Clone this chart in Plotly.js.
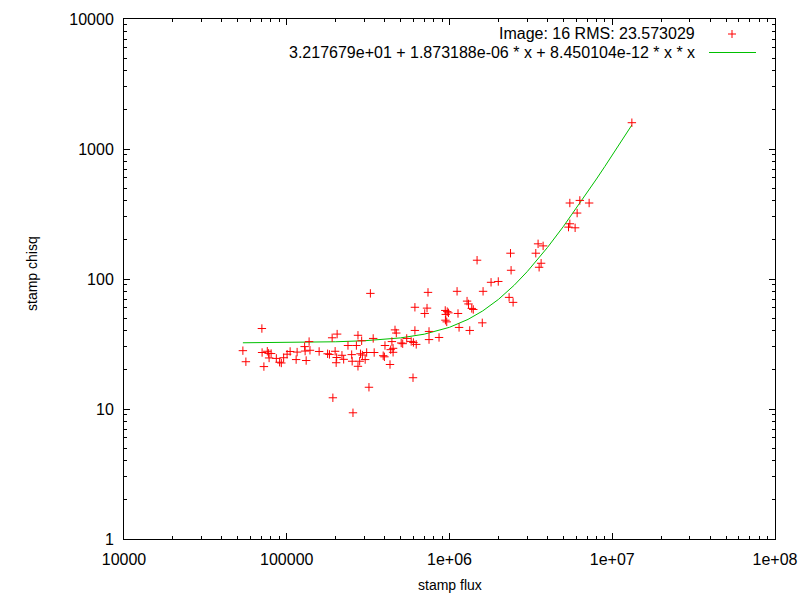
<!DOCTYPE html>
<html>
<head>
<meta charset="utf-8">
<script src="https://cdn.plot.ly/plotly-3.0.1.min.js"></script>
<style>
  body { margin: 0; background: #fff; }
  #chart { width: 800px; height: 600px; }
</style>
</head>
<body>
<div id="chart"></div>
<script>
// stamp flux / chisq per source
var fluxVals = [70350, 53760, 56090, 72380, 70560, 75940, 77360, 80150, 77900, 86290,
  90410, 92600, 95680, 100500, 104900, 114200, 115800, 128800, 137200, 129700,
  138900, 131600, 158100, 178300, 183000, 190100, 204000, 198300, 201200, 202600,
  218400, 223700, 237800, 250600, 252300, 273900, 267800, 288600, 283800, 291500,
  280600, 273900, 303300, 309800, 344500, 339700, 320000, 192000, 255200, 326500,
  401400, 442700, 435200, 450200, 450200, 391400, 398100, 431000, 462500, 471100,
  504900, 515800, 545900, 581600, 600100, 624500, 613100, 596700, 613100, 727600,
  704200, 737800, 941500, 985100, 948300, 968500, 944100, 961600, 1128000, 1113000,
  1145000, 748500, 748500, 862400, 1282000, 1308000, 1370000, 1400000, 1332000, 1590000,
  1477000, 1608000, 1800000, 1994000, 2324000, 2459000, 2370000, 2390000, 3502000, 3760000,
  3390000, 3655000, 3553000, 5487000, 6322000, 7211000, 6084000, 5487000, 5386000, 5914000,
  13200000];
var chisqVals = [41.6, 28.1, 23.1, 21.2, 27.2, 27.8, 26.8, 26.7, 24.7, 24.5,
  22.9, 22.6, 24.8, 26.4, 27.7, 24.0, 27.4, 30.2, 33.0, 27.9,
  28.3, 23.6, 27.7, 26.6, 26.3, 35.3, 37.7, 27.8, 22.7, 24.9,
  25.9, 24.1, 30.8, 26.2, 23.3, 36.9, 30.8, 33.5, 26.6, 26.0,
  23.3, 21.3, 24.0, 27.2, 27.2, 34.9, 14.7, 12.2, 9.35, 77.5,
  30.8, 33.0, 28.6, 29.3, 27.3, 25.7, 25.2, 22.0, 40.6, 38.4,
  32.2, 31.8, 34.9, 33.1, 32.5, 31.4, 40.2, 17.4, 60.6, 59.7,
  54.3, 78.9, 57.3, 54.9, 53.4, 56.1, 48.2, 46.8, 54.3, 80.4,
  42.4, 39.5, 34.2, 35.5, 67.6, 64.3, 59.4, 58.3, 40.2, 46.0,
  139.5, 80.4, 94.3, 95.7, 72.2, 66.1, 157.9, 116.7, 186.4, 179.8,
  157.9, 132.2, 123.1, 384.2, 402.3, 384.2, 321.6, 265.9, 250.7, 247.6,
  1593];

// fitted curve
var fitFlux = [53760, 70000, 100000, 150000, 200000, 300000, 400000, 500000, 700000, 1000000,
  1300000, 1600000, 2000000, 2500000, 3000000, 3500000, 4000000, 5000000, 6000000, 7000000,
  8000000, 9000000, 10000000, 11000000, 12000000, 13200000];
var fitChisq = [32.31, 32.35, 32.45, 32.65, 32.89, 33.50, 34.28, 35.23, 37.63, 42.50,
  48.90, 56.81, 69.73, 89.67, 113.85, 142.25, 174.87, 252.80, 347.62, 459.34,
  587.98, 733.5, 896.0, 1075.2, 1271.5, 1529.0];

var legendPoints = 'Image: 16 RMS: 23.573029';
var legendFit = '3.217679e+01 + 1.873188e-06 * x + 8.450104e-12 * x * x';

var xTickVals = [1e4, 1e5, 1e6, 1e7, 1e8];
var xTickText = ['10000', '100000', '1e+06', '1e+07', '1e+08'];
var yTickVals = [1, 10, 100, 1000, 10000];
var yTickText = ['1', '10', '100', '1000', '10000'];

var FONT = 'Liberation Sans, Arial, sans-serif';

// plot box in pixels: left 124, right 775, top 19, bottom 539
function px(x) { return (x - 124) / 651; }
function py(y) { return (539 - y) / 520; }

function minorVals(lo, hi) {
  var out = [];
  for (var e = lo; e < hi; e++) {
    for (var m = 2; m <= 9; m++) out.push(m * Math.pow(10, e));
  }
  return out;
}

var points = {
  type: 'scatter',
  mode: 'markers',
  x: fluxVals,
  y: chisqVals,
  hoverinfo: 'x+y',
  marker: {
    symbol: 'cross-thin',
    size: 6,
    color: '#ff0000',
    line: { color: '#ff0000', width: 1 }
  }
};

var fit = {
  type: 'scatter',
  mode: 'lines',
  x: fitFlux,
  y: fitChisq,
  hoverinfo: 'x+y',
  line: { color: '#00c000', width: 1 }
};

var axisCommon = {
  type: 'log',
  showgrid: false,
  zeroline: false,
  showline: true,
  linecolor: '#000',
  linewidth: 1,
  mirror: 'allticks',
  ticks: 'inside',
  ticklen: 6,
  tickwidth: 1,
  tickcolor: '#000',
  tickmode: 'array',
  tickfont: { family: FONT, size: 16, color: '#000' }
};

var layout = {
  width: 800,
  height: 600,
  margin: { l: 124, r: 25, t: 19, b: 61 },
  paper_bgcolor: '#fff',
  plot_bgcolor: '#fff',
  showlegend: false,
  font: { family: FONT, size: 16, color: '#000' },
  xaxis: Object.assign({}, axisCommon, {
    range: [4, 8],
    tickvals: xTickVals,
    ticktext: xTickText,
    ticklabelstandoff: 6,
    minor: { tickvals: minorVals(4, 8), ticks: 'inside', ticklen: 3, tickcolor: '#000', showgrid: false }
  }),
  yaxis: Object.assign({}, axisCommon, {
    range: [0, 4],
    tickvals: yTickVals,
    ticktext: yTickText,
    ticklabelstandoff: 6,
    minor: { tickvals: minorVals(0, 4), ticks: 'inside', ticklen: 3, tickcolor: '#000', showgrid: false }
  }),
  annotations: [
    { xref: 'paper', yref: 'paper', x: 0.5, y: py(585), text: 'stamp flux',
      showarrow: false, xanchor: 'center', yanchor: 'middle', font: { family: FONT, size: 14 } },
    { xref: 'paper', yref: 'paper', x: px(32), y: py(274), text: 'stamp chisq', textangle: -90,
      showarrow: false, xanchor: 'center', yanchor: 'middle', font: { family: FONT, size: 14 } },
    { xref: 'paper', yref: 'paper', x: px(697), y: py(33), text: legendPoints,
      showarrow: false, xanchor: 'right', yanchor: 'middle', font: { family: FONT, size: 16 } },
    { xref: 'paper', yref: 'paper', x: px(697), y: py(52), text: legendFit,
      showarrow: false, xanchor: 'right', yanchor: 'middle', font: { family: FONT, size: 16 } }
  ],
  shapes: [
    { type: 'path', xref: 'paper', yref: 'paper', xsizemode: 'pixel', ysizemode: 'pixel',
      xanchor: px(732), yanchor: py(34), path: 'M-4,0H4M0,-4V4',
      line: { color: '#ff0000', width: 1 } },
    { type: 'line', xref: 'paper', yref: 'paper', x0: px(709), x1: px(756), y0: py(52.5), y1: py(52.5),
      line: { color: '#00c000', width: 1 } }
  ]
};

Plotly.newPlot('chart', [fit, points], layout, { displayModeBar: false, staticPlot: true });
</script>
</body>
</html>
